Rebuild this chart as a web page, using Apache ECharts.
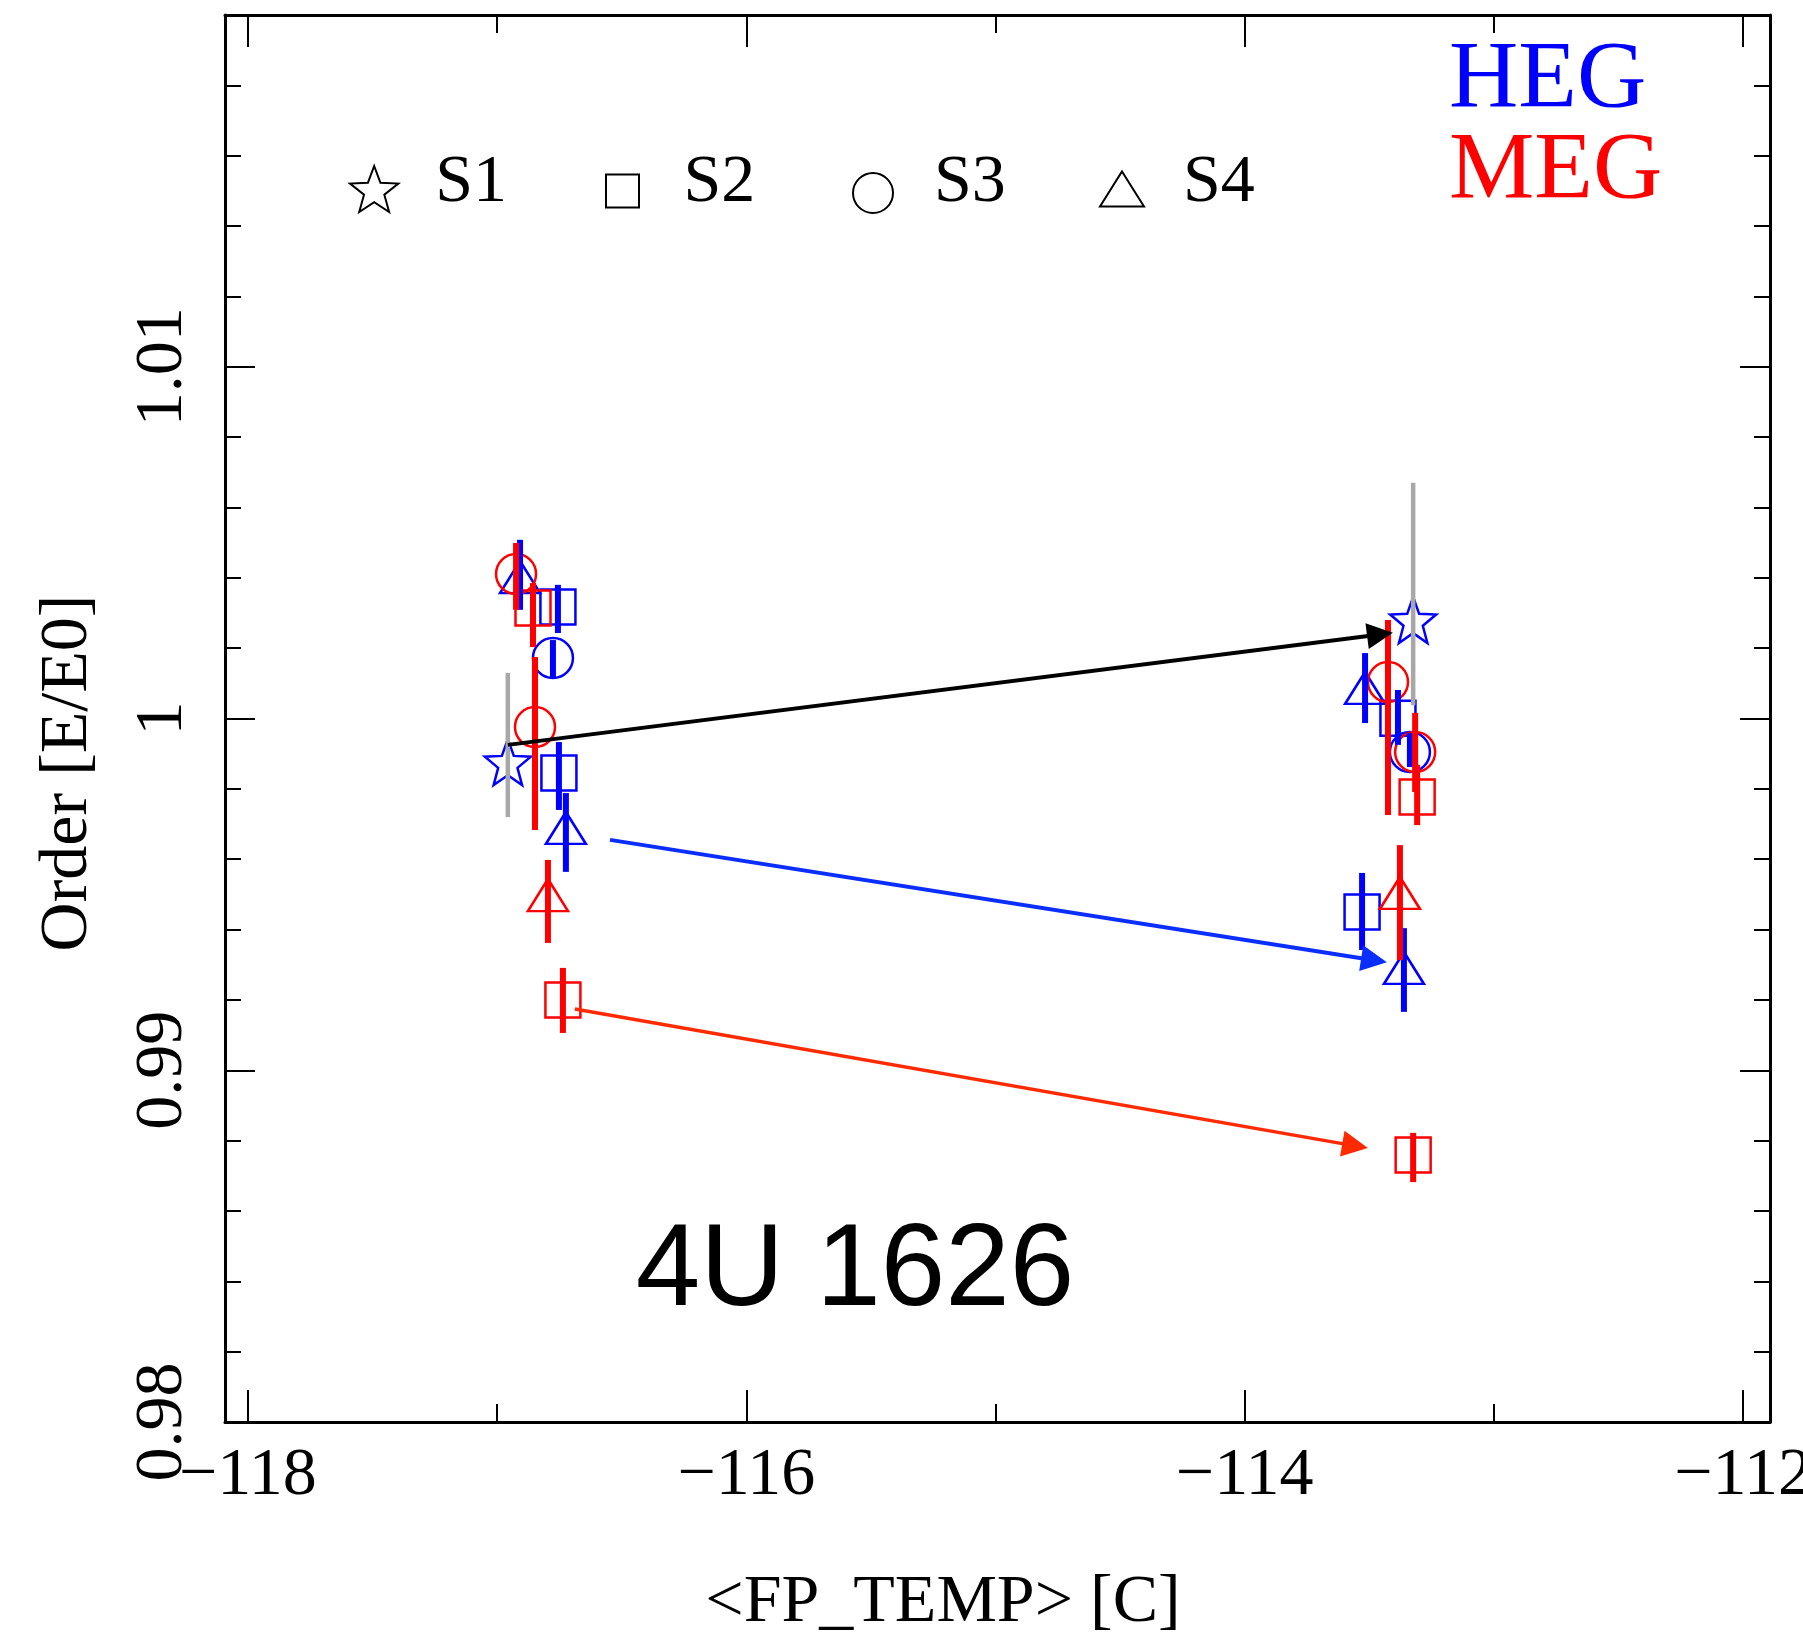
<!DOCTYPE html>
<html>
<head>
<meta charset="utf-8">
<script src="https://cdn.jsdelivr.net/npm/echarts@6/dist/echarts.min.js"></script>
<style>
  html, body { margin: 0; padding: 0; background: #ffffff; }
  #chart { width: 1803px; height: 1642px; }
</style>
</head>
<body>
<div id="chart"></div>
<script>
// Axis extents and tick positions
const xMin = -118.092, xMax = -111.892;
const yMin = 0.98, yMax = 1.02;
const xMajorTicks = [-118, -116, -114, -112];
const xMinorTicks = [-117, -115, -113];

// Line-position ratios per grating and spectral region:
// [<FP_TEMP> (C), E/E0, lower bound, upper bound]
const s1Heg = [[-116.957, 0.99876, 0.99720, 1.00129], [-113.324, 1.00280, 1.00038, 1.00670]];
const s2Heg = [[-116.756, 1.00317, 1.00243, 1.00380], [-116.752, 0.99845, 0.99740, 0.99933],
               [-113.385, 1.00001, 0.99925, 1.00081], [-113.529, 0.99450, 0.99342, 0.99561]];
const s3Heg = [[-116.776, 1.00172, 1.00118, 1.00223], [-113.337, 0.99905, 0.99862, 0.99959]];
const s4Heg = [[-116.908, 1.00402, 1.00309, 1.00508], [-116.724, 0.99689, 0.99564, 0.99788],
               [-113.517, 1.00087, 0.99987, 1.00186], [-113.361, 0.99291, 0.99166, 0.99404]];
const s2Meg = [[-116.856, 1.00314, 1.00203, 1.00385], [-116.736, 0.99200, 0.99106, 0.99291],
               [-113.308, 0.99777, 0.99697, 0.99868], [-113.324, 0.98759, 0.98682, 0.98822]];
const s3Meg = [[-116.924, 1.00411, 1.00309, 1.00499], [-116.848, 0.99976, 0.99683, 1.00175],
               [-113.425, 1.00104, 0.99726, 1.00280], [-113.316, 0.99905, 0.99791, 1.00016]];
const s4Meg = [[-116.796, 0.99498, 0.99362, 0.99598], [-113.377, 0.99504, 0.99313, 0.99640]];

// Shift arrows between the two temperatures: [start, end]
const arrowBlack = [[-116.957, 0.99925], [-113.457, 1.00239]];
const arrowBlue  = [[-116.547, 0.99655], [-113.481, 0.99313]];
const arrowRed   = [[-116.688, 0.99174], [-113.557, 0.98785]];

const legendNames = ['S1', 'S2', 'S3', 'S4'];

const BLUE = '#0000ff', RED = '#ff0000', GRAY = '#a8a8a8';
const serif = '"Liberation Serif", "Times New Roman", serif';
const sans = '"Liberation Sans", Arial, sans-serif';

// Hollow five-pointed star outline (optionally with an empty margin above it)
function starPath(R, r, topPad) {
  const pts = [];
  for (let i = 0; i < 10; i++) {
    const rad = (i % 2 === 0) ? R : r;
    const a = -Math.PI / 2 + i * Math.PI / 5;
    pts.push((R + rad * Math.cos(a)).toFixed(2) + ',' + (R + rad * Math.sin(a)).toFixed(2));
  }
  const pad = topPad ? 'M' + R + ',' + (-topPad) + ' ' : '';
  return 'path://' + pad + 'M' + pts.join(' L') + ' Z';
}
const STAR = starPath(50, 21, 0);

// Legend icons; the leading move-to point leaves room above each shape so
// it sits slightly below the middle of its label.
const LEGEND_STAR = starPath(50, 21, 23.6);
const LEGEND_SQUARE = 'path://M16.5,-16 M0,0 L33,0 L33,33 L0,33 Z';
const LEGEND_CIRCLE = 'path://M20,-20 M0,20 A20,20 0 1,1 40,20 A20,20 0 1,1 0,20 Z';
const LEGEND_TRIANGLE = 'path://M22,-12 M22,0 L44,35 L0,35 Z';

function markers(name, data, symbol, size, color) {
  return {
    type: 'scatter', name, xAxisIndex: 0, yAxisIndex: 0,
    data: data.map(d => [d[0], d[1]]),
    symbol, symbolSize: size,
    itemStyle: { color: 'rgba(0,0,0,0)', borderColor: color, borderWidth: 2.5, opacity: 1 },
    emphasis: { disabled: true }, silent: true, z: 3
  };
}

function errorBars(data, color, width) {
  return {
    type: 'custom', xAxisIndex: 0, yAxisIndex: 0,
    data: data.map(d => [d[0], d[2], d[3]]),
    encode: { x: 0, y: [1, 2] },
    renderItem: (params, api) => {
      const a = api.coord([api.value(0), api.value(1)]);
      const b = api.coord([api.value(0), api.value(2)]);
      return { type: 'line', shape: { x1: a[0], y1: a[1], x2: b[0], y2: b[1] },
               style: { stroke: color, lineWidth: width } };
    },
    silent: true, z: 4
  };
}

const tickStyle = { color: '#000', width: 2 };
const frameLine = { show: true, lineStyle: { color: '#000', width: 3 } };
const labelFont = { fontFamily: serif, fontSize: 68, color: '#000' };

function xAxisDef(position, ticks, len, withLine, withLabels) {
  return {
    type: 'value', position, min: xMin, max: xMax,
    axisLine: withLine ? frameLine : { show: false },
    axisTick: { show: true, inside: true, length: len, customValues: ticks, lineStyle: tickStyle },
    axisLabel: withLabels ? Object.assign({
      customValues: ticks, margin: 20,
      formatter: v => String(v).replace('-', '\u2212')
    }, labelFont) : { show: false },
    splitLine: { show: false }
  };
}

function yAxisDef(position, withLabels) {
  return {
    type: 'value', position, min: yMin, max: yMax, interval: 0.01,
    axisLine: frameLine,
    axisTick: { show: true, inside: true, length: 30, lineStyle: tickStyle },
    minorTick: { show: true, splitNumber: 5, length: 16, lineStyle: tickStyle },
    axisLabel: withLabels ? Object.assign({
      rotate: 90, margin: 28,
      formatter: v => (v > 1.015 ? '' : String(+v.toFixed(2)))
    }, labelFont) : { show: false },
    splitLine: { show: false }, minorSplitLine: { show: false }
  };
}

const legendIcons = [LEGEND_STAR, LEGEND_SQUARE, LEGEND_CIRCLE, LEGEND_TRIANGLE];
const legendIconHeights = [58, 49, 60, 47];
const legendLefts = [349, 605, 852, 1099];

const option = {
  animation: false,
  backgroundColor: '#ffffff',
  grid: { left: 225, right: 33, top: 15, bottom: 220, containLabel: false, outerBoundsMode: 'none' },
  xAxis: [
    xAxisDef('bottom', xMajorTicks, 32, true, true),
    xAxisDef('bottom', xMinorTicks, 18, false, false),
    xAxisDef('top', xMajorTicks, 32, true, false),
    xAxisDef('top', xMinorTicks, 18, false, false)
  ],
  yAxis: [yAxisDef('left', true), yAxisDef('right', false)],
  legend: legendNames.map((name, i) => ({
    data: [{ name, icon: legendIcons[i],
             itemStyle: { color: 'rgba(0,0,0,0)', borderColor: '#000', borderWidth: 2 } }],
    left: legendLefts[i], top: 149, padding: 0,
    itemWidth: 112, itemHeight: legendIconHeights[i],
    selectedMode: false,
    textStyle: { fontFamily: serif, fontSize: 68, color: '#000' }
  })),
  series: [
    markers('S1', s1Heg, STAR, 46, BLUE),
    markers('S2', s2Heg, 'rect', 35, BLUE),
    markers('S3', s3Heg, 'circle', 40, BLUE),
    markers('S4', s4Heg, 'triangle', [40, 32], BLUE),
    markers('S2', s2Meg, 'rect', 35, RED),
    markers('S3', s3Meg, 'circle', 40, RED),
    markers('S4', s4Meg, 'triangle', [40, 32], RED),
    errorBars(s1Heg, GRAY, 4.5),
    errorBars(s2Heg, BLUE, 6),
    errorBars(s3Heg, BLUE, 6),
    errorBars(s4Heg, BLUE, 6),
    errorBars(s2Meg, RED, 6),
    errorBars(s3Meg, RED, 6),
    errorBars(s4Meg, RED, 6),
    {
      type: 'lines', coordinateSystem: 'cartesian2d', xAxisIndex: 0, yAxisIndex: 0,
      symbol: ['none', 'triangle'], symbolSize: 26,
      silent: true, z: 5,
      data: [
        { coords: arrowBlack, lineStyle: { color: '#000000', width: 4, opacity: 1 } },
        { coords: arrowBlue,  lineStyle: { color: '#0a2eff', width: 4, opacity: 1 } },
        { coords: arrowRed,   lineStyle: { color: '#ff2a00', width: 3.5, opacity: 1 } }
      ]
    }
  ],
  graphic: [
    { type: 'text', x: 1449, y: 82, silent: true,
      style: { text: 'HEG', font: '96px ' + serif, fill: BLUE, align: 'left', verticalAlign: 'middle' } },
    { type: 'text', x: 1449, y: 173, silent: true,
      style: { text: 'MEG', font: '96px ' + serif, fill: RED, align: 'left', verticalAlign: 'middle' } },
    { type: 'text', x: 855, y: 1273, silent: true,
      style: { text: '4U 1626', font: '116px ' + sans, fill: '#000', align: 'center', verticalAlign: 'middle' } },
    { type: 'text', x: 943, y: 1603, silent: true,
      style: { text: '<FP_TEMP> [C]', font: '68px ' + serif, fill: '#000', align: 'center', verticalAlign: 'middle' } },
    { type: 'text', x: 68, y: 773, rotation: Math.PI / 2, silent: true,
      style: { text: 'Order [E/E0]', font: '68px ' + serif, fill: '#000', align: 'center', verticalAlign: 'middle' } }
  ]
};

const chart = echarts.init(document.getElementById('chart'), null, { renderer: 'canvas' });
chart.setOption(option);
</script>
</body>
</html>
